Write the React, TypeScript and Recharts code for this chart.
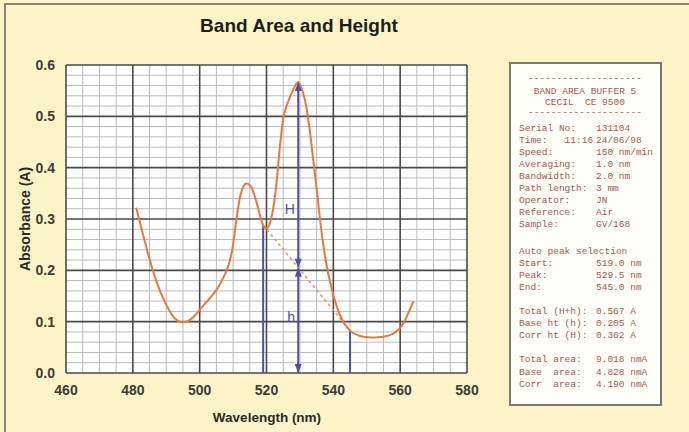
import {
  ComposedChart,
  CartesianGrid,
  Line,
  ReferenceLine,
  Scatter,
  XAxis,
  YAxis,
} from "recharts";

// spectrum
const wavelength = [
  481, 482, 483, 484, 485, 486, 487, 488, 489, 490, 491, 492, 493, 494, 495,
  496, 497, 498, 499, 500, 502, 504, 506, 507, 508, 509, 510, 511, 512, 513,
  514, 515, 516, 517, 518, 519, 520, 521, 522, 523, 524, 525, 526, 527, 528,
  529, 529.5, 530, 531, 532, 533, 534, 535, 536, 537, 538, 539, 540, 541, 542,
  543, 544, 545, 546, 548, 550, 552, 554, 556, 558, 559, 560, 561, 562, 563,
  564,
];
const absorbance = [
  0.322, 0.297, 0.271, 0.246, 0.222, 0.2, 0.18, 0.162, 0.147, 0.133, 0.121,
  0.111, 0.104, 0.1, 0.099, 0.1, 0.103, 0.108, 0.115, 0.123, 0.138, 0.153,
  0.172, 0.185, 0.199, 0.218, 0.25, 0.3, 0.34, 0.362, 0.369, 0.366, 0.354,
  0.333, 0.308, 0.288, 0.282, 0.292, 0.32, 0.37, 0.44, 0.495, 0.52, 0.537,
  0.552, 0.564, 0.567, 0.562, 0.545, 0.515, 0.47, 0.414, 0.36, 0.3, 0.25,
  0.21, 0.178, 0.152, 0.13, 0.113, 0.1, 0.09, 0.083, 0.078, 0.072, 0.07,
  0.069, 0.07, 0.072, 0.077, 0.082, 0.088, 0.097, 0.11, 0.125, 0.14,
];

const startNm = 519;
const peakNm = 529.5;
const endNm = 545;
const startAbs = 0.288;
const endAbs = 0.083;
const totalHt = 0.567;
const baseHt = 0.205;

const xTicks = [460, 480, 500, 520, 540, 560, 580];
const yTicks = [0, 0.1, 0.2, 0.3, 0.4, 0.5, 0.6];

const headerLines = [
  "--------------------",
  "BAND AREA BUFFER 5",
  "CECIL  CE 9500",
  "--------------------",
];
const infoRows = [
  ["Serial No:", "131104"],
  ["Time:   11:16", "24/06/98"],
  ["Speed:", "150 nm/min"],
  ["Averaging:", "1.0 nm"],
  ["Bandwidth:", "2.0 nm"],
  ["Path length:", "3 mm"],
  ["Operator:", "JN"],
  ["Reference:", "Air"],
  ["Sample:", "GV/168"],
];
const peakRows = [
  ["Auto peak selection", ""],
  ["Start:", "519.0 nm"],
  ["Peak:", "529.5 nm"],
  ["End:", "545.0 nm"],
];
const heightRows = [
  ["Total (H+h):", "0.567 A"],
  ["Base ht (h):", "0.205 A"],
  ["Corr ht (H):", "0.362 A"],
];
const areaRows = [
  ["Total area:", "9.018 nmA"],
  ["Base  area:", "4.828 nmA"],
  ["Corr  area:", "4.190 nmA"],
];

const spectrum = wavelength.map((nm, i) => ({ nm, a: absorbance[i] }));
const baseline = [
  { nm: startNm, a: startAbs },
  { nm: endNm, a: endAbs },
];
const arrowHeads = [
  { nm: peakNm, a: totalHt, dir: "up" },
  { nm: peakNm, a: baseHt, dir: "down" },
  { nm: peakNm, a: baseHt, dir: "up" },
  { nm: peakNm, a: 0, dir: "down" },
];
const markLabels = [
  { nm: 527, a: 0.32, text: "H" },
  { nm: 527.4, a: 0.11, text: "h" },
];

const minorX: number[] = [];
for (let v = 465; v < 580; v += 5) if (v % 20 !== 0) minorX.push(v);
const minorY: number[] = [];
for (let i = 1; i < 30; i++) if (i % 5 !== 0) minorY.push(+(i * 0.02).toFixed(2));

const ORANGE = "#e8783c";
const BLUE = "#4f4fa6";
const INK = "#a35c4e";

const Arrow = (props: any) => {
  const { cx, cy, payload } = props;
  const h = 9;
  const w = 3.5;
  const d = payload.dir === "up" ? h : -h;
  return (
    <polygon
      points={`${cx},${cy} ${cx - w},${cy + d} ${cx + w},${cy + d}`}
      fill={BLUE}
    />
  );
};

const MarkText = (props: any) => {
  const { cx, cy, payload } = props;
  return (
    <text
      x={cx}
      y={cy}
      textAnchor="middle"
      dominantBaseline="central"
      fill={BLUE}
      fontSize={14}
      fontFamily="Liberation Sans, Arial, sans-serif"
    >
      {payload.text}
    </text>
  );
};

const PANEL_TOP = 62;

const monoLine = (top: number, label: string, value: string, key: string) => (
  <div
    key={key}
    style={{ position: "absolute", top: top - PANEL_TOP - 2 - 5, left: 0, height: 10 }}
  >
    <span style={{ position: "absolute", left: 8, whiteSpace: "pre" }}>{label}</span>
    <span style={{ position: "absolute", left: 85, whiteSpace: "pre" }}>{value}</span>
  </div>
);

export default function App() {
  const headerTops = [79, 92, 103, 113];
  return (
    <div
      style={{
        position: "absolute",
        left: 0,
        top: 0,
        width: 689,
        height: 432,
        background: "#fcf4c6",
        overflow: "hidden",
        fontFamily: "Liberation Sans, Arial, sans-serif",
      }}
    >
      <div
        style={{
          position: "absolute",
          left: 4,
          top: 3,
          width: 720,
          height: 460,
          borderTop: "2px solid #85857c",
          borderLeft: "2px solid #85857c",
        }}
      />
      <div
        style={{
          position: "absolute",
          left: 0,
          width: 598,
          top: 15,
          textAlign: "center",
          fontSize: 19,
          fontWeight: "bold",
          color: "#1e1e1e",
        }}
      >
        Band Area and Height
      </div>

      <div style={{ position: "absolute", left: 0, top: 0 }}>
        <ComposedChart
          width={689}
          height={432}
          margin={{ top: 65, right: 222, bottom: 29, left: 30 }}
        >
          <CartesianGrid fill="#ffffff" horizontal={false} vertical={false} />
          {minorX.map((v) => (
            <ReferenceLine key={"mx" + v} x={v} stroke="#b9b9c0" strokeWidth={1} />
          ))}
          {minorY.map((v) => (
            <ReferenceLine key={"my" + v} y={v} stroke="#b9b9c0" strokeWidth={1} />
          ))}
          {xTicks.map((v) => (
            <ReferenceLine key={"Mx" + v} x={v} stroke="#4a4a4a" strokeWidth={1.6} />
          ))}
          {yTicks.map((v) => (
            <ReferenceLine key={"My" + v} y={v} stroke="#4a4a4a" strokeWidth={1.6} />
          ))}
          <XAxis
            type="number"
            dataKey="nm"
            domain={[460, 580]}
            ticks={xTicks}
            allowDataOverflow
            axisLine={false}
            tickLine={false}
            tickSize={0}
            tickMargin={12}
            height={30}
            tick={{ fill: "#3c3c3c", fontSize: 14, fontWeight: "bold" }}
          />
          <YAxis
            type="number"
            dataKey="a"
            domain={[0, 0.6]}
            ticks={yTicks}
            allowDataOverflow
            axisLine={false}
            tickLine={false}
            tickSize={0}
            tickMargin={11}
            width={36}
            tickFormatter={(v: number) => v.toFixed(1)}
            tick={{ fill: "#3c3c3c", fontSize: 14, fontWeight: "bold" }}
          />
          <ReferenceLine
            segment={[{ x: startNm, y: 0 }, { x: startNm, y: startAbs }]}
            stroke={BLUE}
            strokeWidth={2}
          />
          <ReferenceLine
            segment={[{ x: endNm, y: 0 }, { x: endNm, y: endAbs }]}
            stroke={BLUE}
            strokeWidth={2}
          />
          <ReferenceLine
            segment={[{ x: peakNm, y: 0 }, { x: peakNm, y: totalHt }]}
            stroke={BLUE}
            strokeWidth={2}
          />
          <Line
            data={baseline}
            dataKey="a"
            type="linear"
            stroke="#e8966a"
            strokeWidth={1.6}
            strokeDasharray="3 3"
            dot={false}
            isAnimationActive={false}
          />
          <Line
            data={spectrum}
            dataKey="a"
            type="monotone"
            stroke={ORANGE}
            strokeWidth={2}
            dot={false}
            isAnimationActive={false}
          />
          <Scatter data={arrowHeads} dataKey="a" shape={Arrow} isAnimationActive={false} />
          <Scatter data={markLabels} dataKey="a" shape={MarkText} isAnimationActive={false} />
        </ComposedChart>
      </div>

      <div
        style={{
          position: "absolute",
          left: 25,
          top: 219,
          transform: "translate(-50%, -50%) rotate(-90deg)",
          whiteSpace: "nowrap",
          fontSize: 14,
          fontWeight: "bold",
          color: "#2a2a2a",
        }}
      >
        Absorbance (A)
      </div>
      <div
        style={{
          position: "absolute",
          left: 267,
          top: 417,
          transform: "translate(-50%, -50%)",
          whiteSpace: "nowrap",
          fontSize: 13.5,
          fontWeight: "bold",
          color: "#2a2a2a",
        }}
      >
        Wavelength (nm)
      </div>

      <div
        style={{
          position: "absolute",
          left: 509,
          top: PANEL_TOP,
          width: 149,
          height: 340,
          background: "#fffef9",
          border: "2px solid #7a7a74",
          fontFamily: "Liberation Mono, monospace",
          fontSize: 9.5,
          lineHeight: "10px",
          color: INK,
        }}
      >
        {headerLines.map((t, i) => (
          <div
            key={"h" + i}
            style={{
              position: "absolute",
              top: headerTops[i] - PANEL_TOP - 2 - 5,
              left: 0,
              width: 148,
              height: 10,
              textAlign: "center",
              whiteSpace: "pre",
            }}
          >
            {t}
          </div>
        ))}
        {infoRows.map((r, i) => monoLine(129 + i * 12, r[0], r[1], "i" + i))}
        {peakRows.map((r, i) => monoLine(252 + i * 12, r[0], r[1], "p" + i))}
        {heightRows.map((r, i) => monoLine(312 + i * 12, r[0], r[1], "t" + i))}
        {areaRows.map((r, i) => monoLine(360 + i * 12.5, r[0], r[1], "a" + i))}
      </div>
    </div>
  );
}
